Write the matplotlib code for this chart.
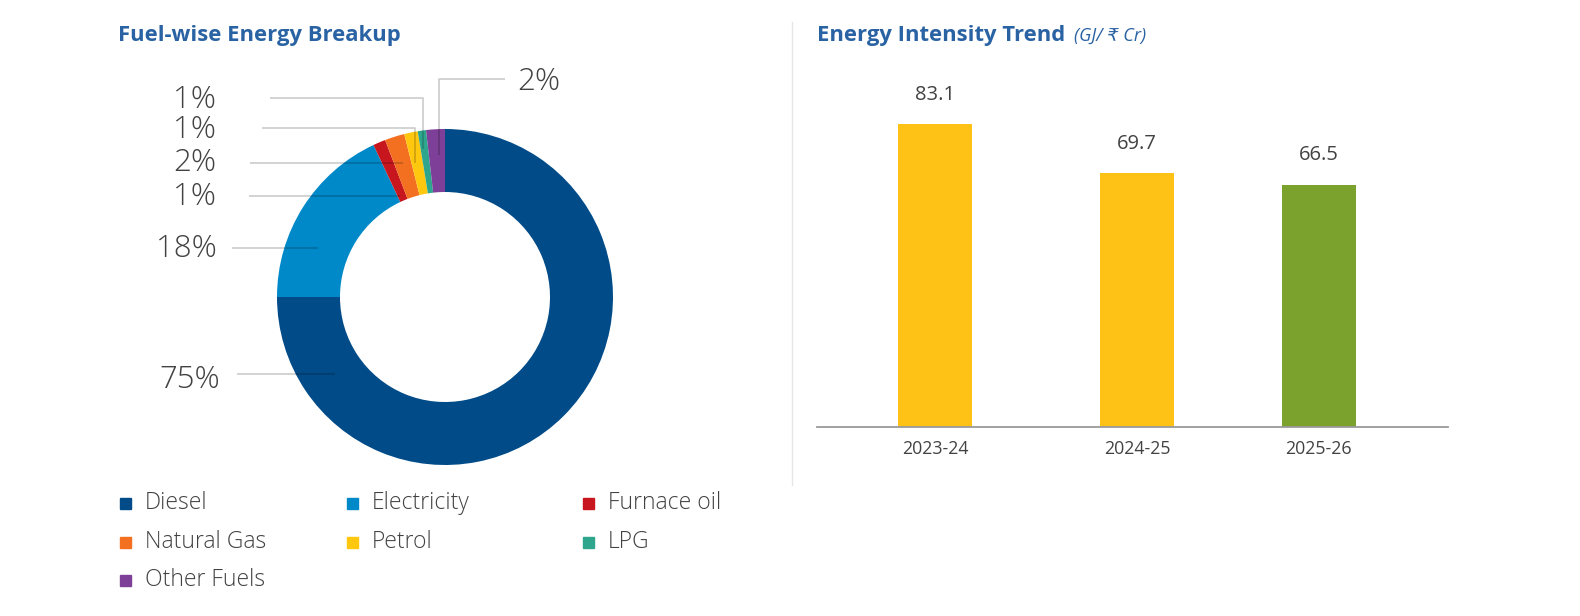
import matplotlib
matplotlib.use("Agg")
import matplotlib.pyplot as plt
from matplotlib.patches import Rectangle
import numpy as np

# fuel mix (share of energy, %)
fuels = ["Diesel", "Electricity", "Furnace oil", "Natural Gas", "Petrol", "LPG", "Other Fuels"]
fuel_share = [75.0, 18.0, 1.2, 1.9, 1.3, 0.8, 1.8]
fuel_colors = ["#004B88", "#0089C8", "#C8161E", "#F37021", "#FFC80E", "#2EA68E", "#7D3F98"]

# energy intensity (GJ / Rs Cr)
years = ["2023-24", "2024-25", "2025-26"]
intensity = [83.1, 69.7, 66.5]
bar_colors = ["#FDC215", "#FDC215", "#7BA22D"]

W, H = 1580, 616
plt.rcParams["font.family"] = ["Open Sans", "DejaVu Sans"]
TITLE = "#2A63A4"
TXT = "#424242"

fig = plt.figure(figsize=(W / 100, H / 100), dpi=100)


def fx(x):
    return x / W


def fy(y):
    return 1 - y / H


# ---- donut ----
cx, cy, R = 445, 297, 168
ax1 = fig.add_axes([fx(cx - R), fy(cy + R), 2 * R / W, 2 * R / H])
wedges, _ = ax1.pie(fuel_share, colors=fuel_colors, startangle=90, counterclock=False,
                    radius=1, wedgeprops=dict(width=0.375, edgecolor="none"))
ax1.set_xlim(-1, 1)
ax1.set_ylim(-1, 1)
ax1.axis("off")

fig.text(fx(118), fy(36), "Fuel-wise Energy Breakup", color=TITLE, fontsize=15.8,
         fontweight="bold", va="center", ha="left")


def d(x, y):
    return (x - cx) / R, (cy - y) / R


# label layout: text x/y (px), line start x, anchor fraction in wedge, anchor radius, bent?
lbl_layout = [
    dict(tx=220, ty=380, lx=237, frac=0.13, r=0.80, bent=False),
    dict(tx=217, ty=249, lx=232, frac=0.675, r=0.81, bent=False),
    dict(tx=216, ty=197, lx=249, frac=0.72, r=0.66, bent=False),
    dict(tx=216, ty=163, lx=250, frac=0.49, r=0.836, bent=False),
    dict(tx=216, ty=130, lx=262, frac=0.69, r=0.82, bent=True, ly=128),
    dict(tx=216, ty=100, lx=270, frac=0.67, r=0.89, bent=True, ly=98),
    dict(tx=517, ty=82, lx=505, frac=0.37, r=0.846, bent=True, ly=79, right=True),
]
for w, v, L in zip(wedges, fuel_share, lbl_layout):
    th = np.deg2rad(w.theta1 + L["frac"] * (w.theta2 - w.theta1))
    axx, ayy = L["r"] * np.cos(th), L["r"] * np.sin(th)
    if L["bent"]:
        yl = d(0, L["ly"])[1]
        xs = [d(L["lx"], 0)[0], axx, axx]
        ys = [yl, yl, ayy]
    else:
        xs = [d(L["lx"], 0)[0], axx]
        ys = [ayy, ayy]
    ax1.plot(xs, ys, color="black", alpha=0.2, lw=1.2, clip_on=False,
             solid_capstyle="butt")
    ha = "left" if L.get("right") else "right"
    ax1.text(*d(L["tx"], L["ty"]), f"{v:.0f}%", fontsize=22.5, color=TXT,
             fontweight="light", ha=ha, va="center", clip_on=False)

# legend
leg_cols = [120, 347, 583]
leg_rows = [503, 542, 580]
for i, (name, c) in enumerate(zip(fuels, fuel_colors)):
    x0, y0 = leg_cols[i % 3], leg_rows[i // 3]
    fig.patches.append(Rectangle((fx(x0), fy(y0 + 6)), 11 / W, 11 / H, color=c,
                                 transform=fig.transFigure, figure=fig))
    fig.text(fx(x0 + 25), fy(y0), name, fontsize=16.5, color=TXT, fontweight="light",
             va="center", ha="left")

# divider
fig.add_artist(plt.Line2D([fx(792), fx(792)], [fy(22), fy(485)], color="#E6E6E6", lw=1))

# ---- bars ----
base_y, px_per_unit = 427, 3.646
x_left, x_right = 817, 1448
ax2 = fig.add_axes([fx(x_left), fy(base_y), (x_right - x_left) / W, 100 * px_per_unit / H])
bar_pos = [0, 1, 1.9]
unit = 202
ax2.bar(bar_pos, intensity, width=74 / unit, color=bar_colors)
ax2.set_xlim((x_left - 935) / unit, (x_right - 935) / unit)
ax2.set_ylim(0, 100)
for s in ["top", "right", "left"]:
    ax2.spines[s].set_visible(False)
ax2.spines["bottom"].set_color("#9A9A9A")
ax2.spines["bottom"].set_linewidth(1.3)
ax2.set_yticks([])
ax2.set_xticks(bar_pos, years)
ax2.tick_params(axis="x", length=0, pad=9, labelsize=12.8, labelcolor=TXT)
for xp, v in zip(bar_pos, intensity):
    ax2.annotate(f"{v:.1f}", (xp, v), xytext=(0, 21), textcoords="offset points",
                 ha="center", va="center", fontsize=14.5, color=TXT)

t = fig.text(fx(817), fy(36), "Energy Intensity Trend", color=TITLE, fontsize=15.8,
             fontweight="bold", va="center", ha="left")
fig.canvas.draw()
bb = t.get_window_extent()
fig.text(bb.x1 / W + 9 / W, fy(36), "(GJ/ \u20b9 Cr)", color=TITLE, fontsize=13,
         style="italic", va="center", ha="left", family=["Open Sans", "DejaVu Sans"])

fig.savefig("out.png", dpi=100, facecolor="white")
